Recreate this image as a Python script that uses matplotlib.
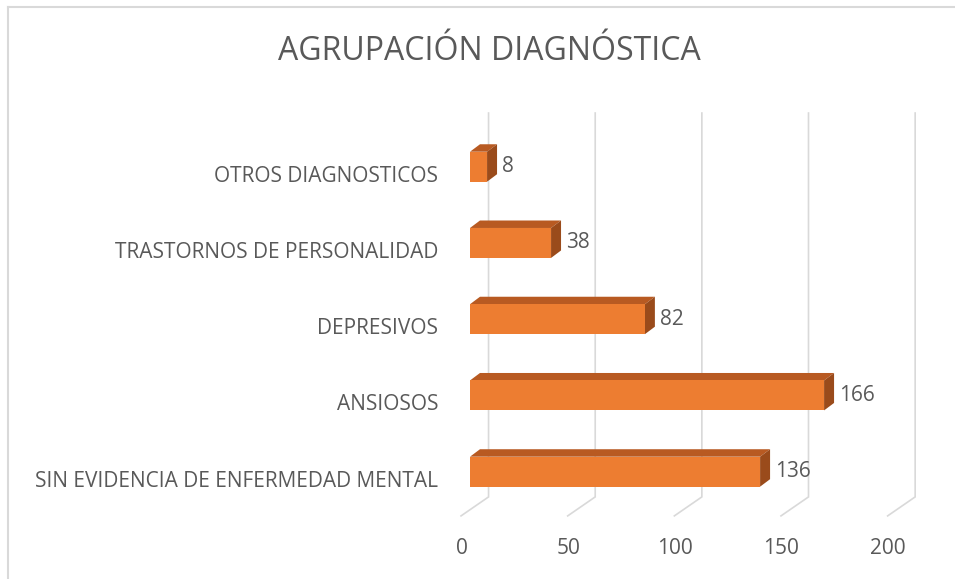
import matplotlib
matplotlib.use("Agg")
import matplotlib.pyplot as plt
from matplotlib.transforms import ScaledTranslation
from matplotlib.lines import Line2D

# data
categories = ["SIN EVIDENCIA DE ENFERMEDAD MENTAL", "ANSIOSOS", "DEPRESIVOS",
              "TRASTORNOS DE PERSONALIDAD", "OTROS DIAGNOSTICOS"]
values = [136, 166, 82, 38, 8]
xticks = [0, 50, 100, 150, 200]
title = "AGRUPACIÓN DIAGNÓSTICA"

plt.rcParams['font.family'] = ['Open Sans', 'DejaVu Sans']
text_color = '#595959'
grid_color = '#D9D9D9'
front = '#ED7D31'
top = '#B85A22'
side = '#9A4B1B'

fig = plt.figure(figsize=(9.55, 5.79), dpi=100)
ax = fig.add_axes([470 / 955, 49 / 579, 426.6 / 955, 430 / 579])
ax.set_xlim(0, 200)
ax.set_ylim(-0.765, 4.875)
for s in ax.spines.values():
    s.set_visible(False)

# depth of the fake 3d look, in data units
dx, dy = 4.68, 0.098
bh = 0.393
# back wall / floor offsets for the grid
back_x, floor_x = 8.7, -4.2
grid_top, grid_bot, floor_y = 4.704, -0.331, -0.580

for t in xticks:
    ax.plot([t + back_x, t + back_x, t + floor_x], [grid_top, grid_bot, floor_y],
            color=grid_color, lw=1.2, zorder=1, solid_joinstyle='miter', clip_on=False)

ypos = list(range(len(categories)))
for y, v in zip(ypos, values):
    y1 = y + bh / 2
    y0 = y - bh / 2
    ax.fill([0, v, v + dx, dx], [y1, y1, y1 + dy, y1 + dy], color=top, lw=0, zorder=2)
    ax.fill([v, v + dx, v + dx, v], [y0, y0 + dy, y1 + dy, y1], color=side, lw=0, zorder=2)
    ax.text(v + 7.0, y, str(v), va='center', ha='left', fontsize=15, color=text_color)
ax.barh(ypos, values, height=bh, color=front, zorder=3)

ax.set_yticks(ypos)
ax.set_yticklabels(categories, fontsize=15, color=text_color)
ax.tick_params(axis='y', length=0, pad=23)
ax.set_xticks(xticks)
ax.set_xticklabels([str(t) for t in xticks], fontsize=15, color=text_color)
ax.tick_params(axis='x', length=0, pad=6)
for lab in ax.get_yticklabels():
    lab.set_transform(lab.get_transform() + ScaledTranslation(0, -7 / 100, fig.dpi_scale_trans))
for lab in ax.get_xticklabels():
    lab.set_transform(lab.get_transform() + ScaledTranslation(-8.5 / 100, 0, fig.dpi_scale_trans))

fig.text(489 / 955, 1 - 52 / 579, title, ha='center', va='center',
         fontsize=23, color=text_color)

# chart area border (top and left only visible)
fig.add_artist(Line2D([8 / 955, 1], [1 - 7 / 579, 1 - 7 / 579], color=grid_color, lw=1.5))
fig.add_artist(Line2D([8 / 955, 8 / 955], [0, 1 - 7 / 579], color=grid_color, lw=1.5))

fig.savefig("out.png", dpi=100, facecolor='white')
